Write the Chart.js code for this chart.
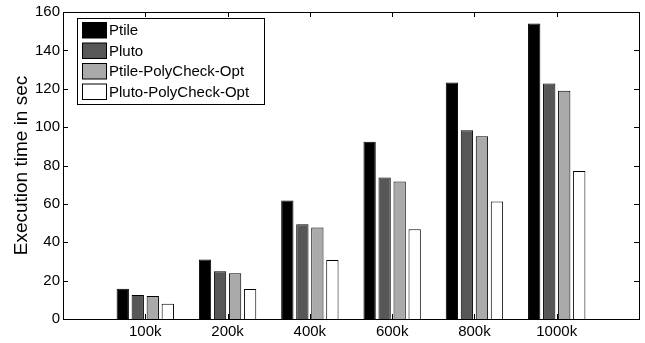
<!DOCTYPE html>
<html>
<head>
<meta charset="utf-8">
<script src="https://cdn.jsdelivr.net/npm/chart.js@4.4.1/dist/chart.umd.min.js"></script>
<style>
  html, body { margin: 0; padding: 0; background: #fff; }
  #wrap { width: 645px; height: 343px; }
</style>
</head>
<body>
<div id="wrap"><canvas id="chart" width="645" height="343"></canvas></div>
<script>
// Data
const categories = ['100k', '200k', '400k', '600k', '800k', '1000k'];
const seriesNames = ['Ptile', 'Pluto', 'Ptile-PolyCheck-Opt', 'Pluto-PolyCheck-Opt'];
const ptile = [15.8, 31.0, 61.8, 92.4, 123.2, 154.0];
const pluto = [12.5, 24.9, 49.4, 73.8, 98.4, 122.8];
const ptileOpt = [12.0, 23.9, 47.7, 71.6, 95.3, 118.9];
const plutoOpt = [7.9, 15.6, 30.8, 46.8, 61.3, 77.1];
const yTicks = [0, 20, 40, 60, 80, 100, 120, 140, 160];

const fills = ['#000000', '#575757', '#aaaaaa', '#ffffff'];
const FONT = 'Liberation Sans, Arial, Helvetica, sans-serif';

// empty slots at both ends so the axis runs 0..7 like the original
const labels = [''].concat(categories, ['']);
const pad = arr => [null].concat(arr, [null]);

const datasets = [ptile, pluto, ptileOpt, plutoOpt].map((vals, i) => ({
    label: seriesNames[i],
    data: pad(vals),
    backgroundColor: fills[i],
    borderColor: '#000',
    borderWidth: 1,
    categoryPercentage: 0.73,
    barPercentage: 0.82
}));

// inward ticks + axes box, matlab style
const boxPlugin = {
    id: 'box',
    beforeDatasetsDraw(chart) {
        const { ctx, chartArea: a, scales } = chart;
        ctx.save();
        ctx.strokeStyle = '#000';
        ctx.lineWidth = 1;
        ctx.beginPath();
        yTicks.forEach(v => {
            const y = Math.round(scales.y.getPixelForValue(v)) + 0.5;
            ctx.moveTo(a.left, y); ctx.lineTo(a.left + 5, y);
            ctx.moveTo(a.right, y); ctx.lineTo(a.right - 5, y);
        });
        categories.forEach((c, i) => {
            const x = Math.round(scales.x.getPixelForValue(i + 1)) + 0.5;
            ctx.moveTo(x, a.bottom); ctx.lineTo(x, a.bottom - 5);
            ctx.moveTo(x, a.top); ctx.lineTo(x, a.top + 5);
        });
        ctx.stroke();
        ctx.restore();
    },
    afterDraw(chart) {
        const { ctx, chartArea: a } = chart;
        ctx.save();
        ctx.strokeStyle = '#000';
        ctx.lineWidth = 1;
        ctx.strokeRect(Math.round(a.left) + 0.5, Math.round(a.top) + 0.5,
            Math.round(a.right - a.left), Math.round(a.bottom - a.top));

        // legend box in the upper left
        const lx = 77.5, ly = 18.5, lw = 187, lh = 86;
        ctx.fillStyle = '#fff';
        ctx.fillRect(lx, ly, lw, lh);
        ctx.strokeRect(lx, ly, lw, lh);
        ctx.font = '15px ' + FONT;
        ctx.textBaseline = 'middle';
        seriesNames.forEach((name, i) => {
            const y = 22.5 + i * 20.5;
            ctx.fillStyle = fills[i];
            ctx.fillRect(82.5, y, 24, 15.5);
            ctx.strokeStyle = '#000';
            ctx.strokeRect(82.5, y, 24, 15.5);
            ctx.fillStyle = '#000';
            ctx.fillText(name, 109, y + 8.5);
        });
        ctx.restore();
    }
};

new Chart(document.getElementById('chart'), {
    type: 'bar',
    data: { labels: labels, datasets: datasets },
    options: {
        responsive: false,
        animation: false,
        layout: { padding: { left: 0, right: 6, top: 9, bottom: 0 } },
        plugins: { legend: { display: false }, tooltip: { enabled: false } },
        scales: {
            x: {
                offset: false,
                grid: { display: false, drawTicks: false },
                border: { display: false },
                ticks: {
                    color: '#000', font: { family: FONT, size: 15 },
                    padding: 4, autoSkip: false, maxRotation: 0
                },
                afterFit: s => { s.height = 24; }
            },
            y: {
                min: 0, max: 160,
                afterBuildTicks: s => { s.ticks = yTicks.map(v => ({ value: v })); },
                grid: { display: false, drawTicks: false },
                border: { display: false },
                ticks: { color: '#000', font: { family: FONT, size: 15 }, padding: 3 },
                title: {
                    display: true, text: 'Execution time in sec', color: '#000',
                    font: { family: FONT, size: 19 }, padding: { top: 10, bottom: 0 }
                },
                afterFit: s => { s.width = 63; }
            }
        }
    },
    plugins: [boxPlugin]
});
</script>
</body>
</html>
